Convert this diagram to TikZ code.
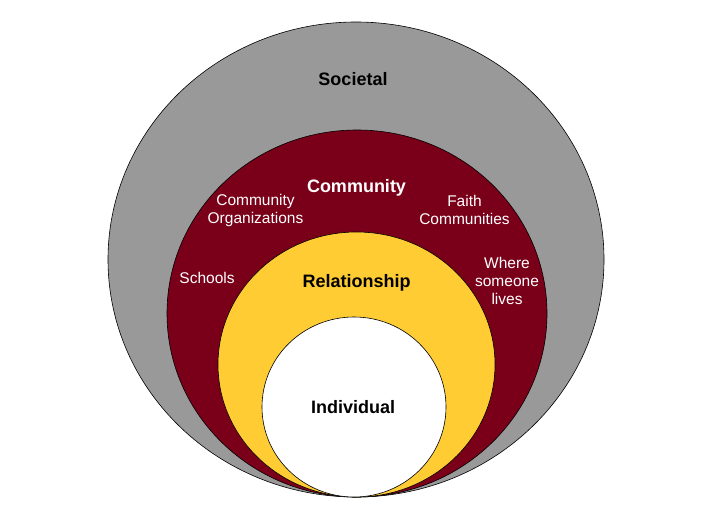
\documentclass[tikz,border=0pt]{standalone}
\usepackage{fontspec}
\setmainfont{Liberation Sans}
\definecolor{socgray}{HTML}{999999}
\definecolor{maroon}{HTML}{7A0019}
\definecolor{gold}{HTML}{FFCC33}
\begin{document}
\begin{tikzpicture}[x=1pt,y=-1pt,
  ring/.style={draw=black,line width=0.6pt},
  bigl/.style={font=\fontsize{18}{21}\selectfont\bfseries,inner sep=0pt},
  smalll/.style={font=\fontsize{15.5}{18}\selectfont,text=white,align=center,inner sep=0pt}]
\useasboundingbox (0,0) rectangle (709,505);
\path[ring,fill=socgray] (356,259.5) ellipse [x radius=248,y radius=237.5];
\path[ring,fill=maroon] (357,313.5) ellipse [x radius=190,y radius=183.5];
\path[ring,fill=gold] (356.5,364.5) ellipse [x radius=138.5,y radius=132.5];
\path[ring,fill=white] (354,407) ellipse [x radius=92,y radius=90];
\node[bigl,anchor=base] (soc) at (353,86) {Societal};
\node[bigl,anchor=base,text=white] (com) at (356.5,193) {Community};
\node[bigl,anchor=base] (rel) at (356.7,287) {Relationship};
\node[bigl,anchor=base] (ind) at (353,413) {Individual};
\node[smalll] (org) at (255.5,210.5) {Community\\Organizations};
\node[smalll] (faith) at (464.5,209.5) {Faith\\Communities};
\node[smalll,anchor=base] (sch) at (207,283) {Schools};
\node[smalll] (where) at (507,281) {Where\\someone\\lives};
\end{tikzpicture}
\end{document}
